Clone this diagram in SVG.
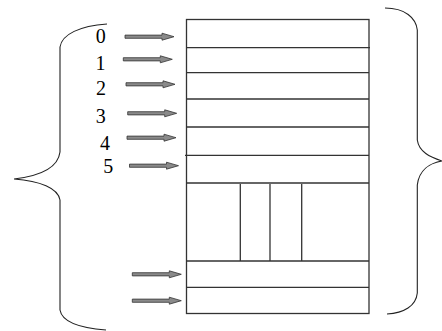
<svg xmlns="http://www.w3.org/2000/svg" width="442" height="331" viewBox="0 0 442 331">
<style>
.brace{fill:none;stroke:#222;stroke-width:1.1}
.box{fill:none;stroke:#333;stroke-width:1.3}
.lbl{font-size:20px;fill:#000}
.arr{fill:#8a8a8a;stroke:#333;stroke-width:0.8}
</style>
<defs>
<path id="arrow" class="arr" d="M0,-1.6 H37 V-3.5 L49,0 L37,3.5 V1.6 H0 Z"/>
</defs>
<rect width="442" height="331" fill="#fff"/>
<g id="left-brace">
<path class="brace" d="M107,24 C80,26 62,34 60,47 V152 C58,168 40,176 14,179 C40,181 58,188 60,200 V310 C62,322 80,328 106,330"/>
</g>
<g id="right-brace">
<path class="brace" d="M385,8 C405,8 416,18 417.3,30 V140 C419,152 430,157 442,161 C430,163 419,170 417.3,185 V293 C416,306 404,313 387,314"/>
</g>
<g id="memory-block">
<rect class="box" x="186.5" y="19.5" width="182.5" height="294"/>
<line class="box" x1="186.5" y1="47.7" x2="370" y2="47.7"/>
<line class="box" x1="186.5" y1="72.7" x2="369" y2="72.7"/>
<line class="box" x1="186.5" y1="99" x2="369" y2="99"/>
<line class="box" x1="186.5" y1="127" x2="369" y2="127"/>
<line class="box" x1="185" y1="155.3" x2="369" y2="155.3"/>
<line class="box" x1="186.5" y1="183" x2="369" y2="183"/>
<line class="box" x1="186.5" y1="261" x2="369" y2="261"/>
<line class="box" x1="186.5" y1="287.3" x2="369" y2="287.3"/>
<line class="box" x1="240.3" y1="184" x2="240.3" y2="261"/>
<line class="box" x1="270" y1="184" x2="270" y2="261"/>
<line class="box" x1="301.7" y1="184" x2="301.7" y2="261"/>
</g>
<g id="labels" font-family="'Liberation Serif', 'Times New Roman', serif">
<text class="lbl" x="95.7" y="43.3">0</text>
<text class="lbl" x="95.5" y="70">1</text>
<text class="lbl" x="96" y="95">2</text>
<text class="lbl" x="95.7" y="123.3">3</text>
<text class="lbl" x="100" y="150">4</text>
<text class="lbl" x="103.3" y="173.3">5</text>
</g>
<g id="connectors">
<use href="#arrow" transform="translate(125,36.7)"/>
<use href="#arrow" transform="translate(123.3,59.3)"/>
<use href="#arrow" transform="translate(126,84.3)"/>
<use href="#arrow" transform="translate(127.7,113.3)"/>
<use href="#arrow" transform="translate(127,137.7)"/>
<use href="#arrow" transform="translate(129.5,165.7)"/>
<use href="#arrow" transform="translate(132.3,274.3)"/>
<use href="#arrow" transform="translate(132.3,300.7)"/>
</g>
</svg>
